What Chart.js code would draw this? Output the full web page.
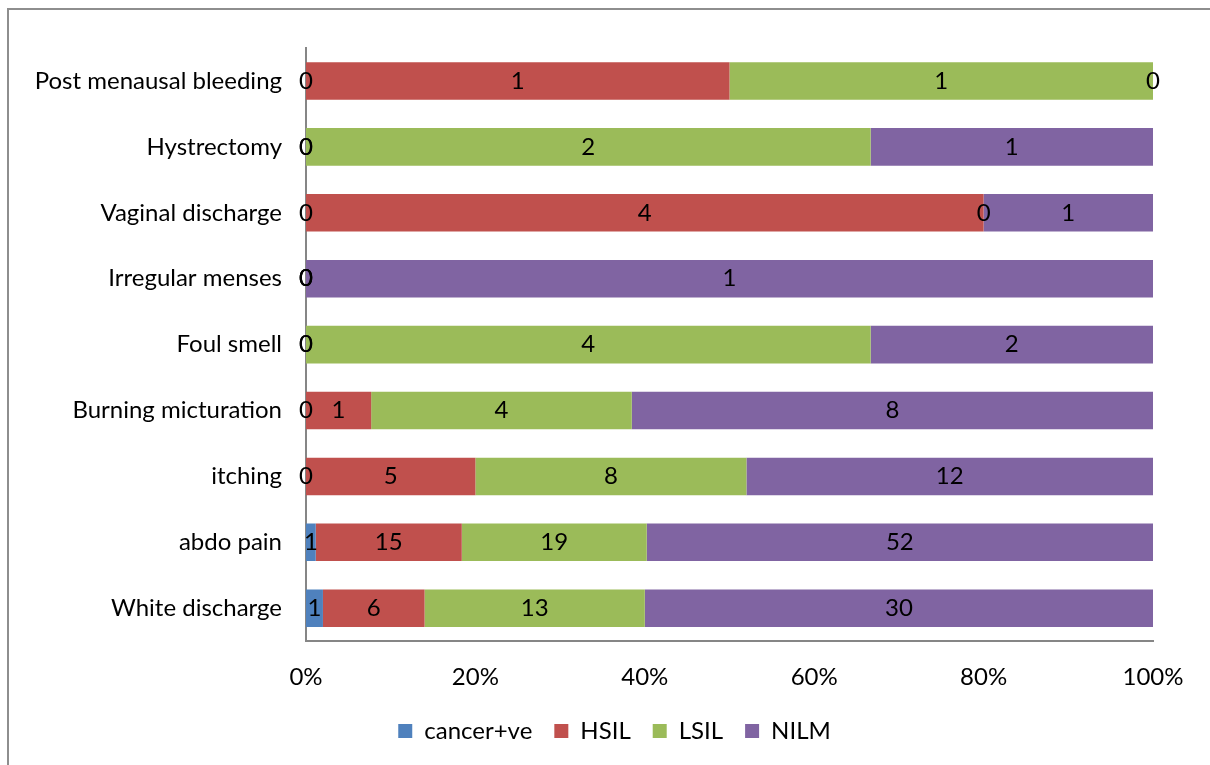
<!DOCTYPE html>
<html>
<head>
<meta charset="utf-8">
<script src="https://cdn.jsdelivr.net/npm/chart.js@4/dist/chart.umd.min.js"></script>
<style>
  html, body { margin: 0; padding: 0; background: #fff; overflow: hidden; }
  #wrap { position: relative; width: 1210px; height: 765px; }
  #frame {
    position: absolute; left: 7px; top: 8px; width: 1220px; height: 780px;
    border-left: 2px solid #8e8e8e; border-top: 2px solid #8e8e8e;
    pointer-events: none;
  }
</style>
</head>
<body>
<div id="wrap">
  <canvas id="chart" width="1210" height="765"></canvas>
  <div id="frame"></div>
</div>
<script>
const categories = [
  "Post menausal bleeding", "Hystrectomy", "Vaginal discharge", "Irregular menses",
  "Foul smell", "Burning micturation", "itching", "abdo pain", "White discharge"
];
const cancer = [0, 0, 0, 0, 0, 0, 0, 1, 1];
const hsil   = [1, 0, 4, 0, 0, 1, 5, 15, 6];
const lsil   = [1, 2, 0, 0, 4, 4, 8, 19, 13];
const nilm   = [0, 1, 1, 1, 2, 8, 12, 52, 30];
const xTicks = [0, 20, 40, 60, 80, 100];

const seriesNames = ["cancer+ve", "HSIL", "LSIL", "NILM"];
const seriesColors = ["#4f81bd", "#c0504d", "#9bbb59", "#8064a2"];
const counts = [cancer, hsil, lsil, nilm];

const totals = categories.map((_, i) => counts.reduce((s, arr) => s + arr[i], 0));
const FONT = { family: "Lato, 'Open Sans', sans-serif", size: 24 };

// each segment gets its share of the row total; labels show the raw counts
const datasets = counts.map((arr, k) => ({
  label: seriesNames[k],
  data: arr.map((v, i) => v / totals[i] * 100),
  counts: arr,
  backgroundColor: seriesColors[k],
  borderWidth: 0,
  barPercentage: 0.57,
  categoryPercentage: 1
}));

const segmentLabels = {
  id: "segmentLabels",
  afterDatasetsDraw(chart) {
    const ctx = chart.ctx;
    ctx.save();
    ctx.font = FONT.size + "px " + FONT.family;
    ctx.fillStyle = "#000";
    ctx.textAlign = "center";
    ctx.textBaseline = "middle";
    chart.data.datasets.forEach((ds, k) => {
      chart.getDatasetMeta(k).data.forEach((bar, i) => {
        const cx = (bar.x + bar.base) / 2;
        ctx.fillText(String(ds.counts[i]), cx, bar.y);
      });
    });
    ctx.restore();
  }
};

// legend sits a little right of the canvas centre and just under the tick labels
const legendNudge = {
  id: "legendNudge",
  afterLayout(chart) {
    const lg = chart.legend;
    const dx = 38, dy = -17;
    lg.left += dx; lg.right += dx;
    lg.top += dy; lg.bottom += dy;
  }
};

new Chart(document.getElementById("chart"), {
  type: "bar",
  data: { labels: categories, datasets: datasets },
  plugins: [segmentLabels, legendNudge],
  options: {
    indexAxis: "y",
    responsive: false,
    animation: false,
    layout: { padding: { left: 0, right: 57, top: 48, bottom: -5 } },
    scales: {
      x: {
        stacked: true,
        min: 0,
        max: 100,
        afterBuildTicks(scale) { scale.ticks = xTicks.map(v => ({ value: v })); },
        grid: { display: false, drawTicks: false },
        border: { display: true, color: "#868686", width: 2 },
        ticks: {
          color: "#000",
          font: FONT,
          padding: 22,
          callback: v => v + "%"
        }
      },
      y: {
        stacked: true,
        afterFit(scale) { scale.width = 306; },
        grid: { display: false, drawTicks: false },
        border: { display: true, color: "#868686", width: 2 },
        ticks: { color: "#000", font: FONT, padding: 24 }
      }
    },
    plugins: {
      tooltip: { enabled: false },
      legend: {
        position: "bottom",
        labels: {
          color: "#000",
          font: FONT,
          boxWidth: 14,
          boxHeight: 14,
          padding: 22
        }
      }
    }
  }
});
</script>
</body>
</html>
